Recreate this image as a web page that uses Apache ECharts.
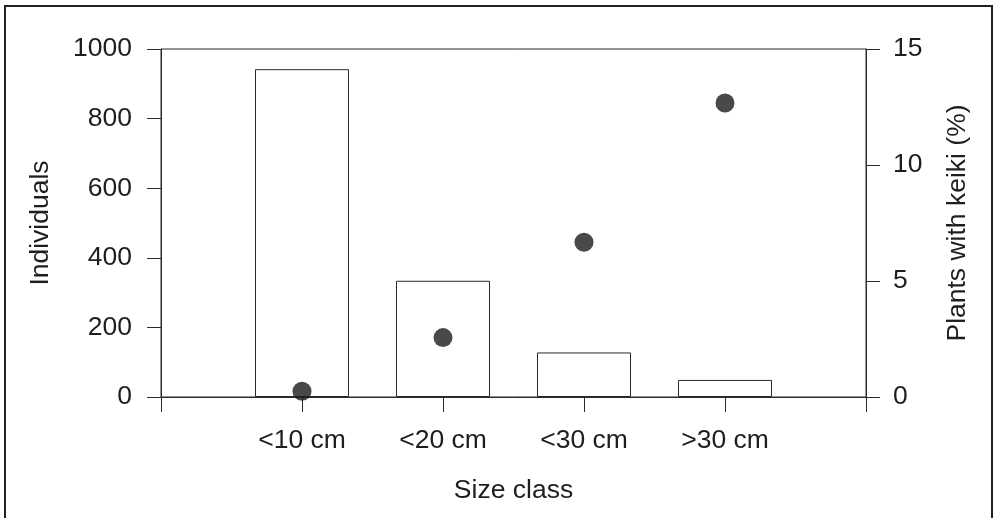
<!DOCTYPE html>
<html>
<head>
<meta charset="utf-8">
<script src="https://cdn.jsdelivr.net/npm/echarts@6/dist/echarts.min.js"></script>
<style>
html,body{margin:0;padding:0;background:#fff;}
#chart{width:994px;height:518px;}
</style>
</head>
<body>
<div id="chart"></div>
<script>
var categories = ['<10 cm', '<20 cm', '<30 cm', '>30 cm'];
var individuals = [942, 334, 128, 49];
var keikiPercent = [0.25, 2.56, 6.67, 12.67];
var leftTicks = [0, 200, 400, 600, 800, 1000];
var rightTicks = [0, 5, 10, 15];

var FONT = 'Liberation Sans, Arial, sans-serif';
var FS = 26.5;
var TXT = '#1e1e1e';
var LINE = '#2a2a2a';

var barData = individuals.map(function (v, i) { return [i + 1, v]; });
var dotData = keikiPercent.map(function (v, i) { return [i + 1, v]; });

var chart = echarts.init(document.getElementById('chart'), null, { renderer: 'canvas' });
chart.setOption({
  animation: false,
  backgroundColor: '#fff',
  graphic: [{
    type: 'polyline',
    shape: { points: [[5, 530], [5, 6], [992, 6], [992, 530]] },
    style: { stroke: '#222', lineWidth: 2, fill: null },
    silent: true
  }],
  grid: {
    left: 161, right: 128, top: 49, bottom: 121,
    show: true, borderColor: LINE, borderWidth: 1, backgroundColor: 'transparent'
  },
  xAxis: {
    type: 'value', min: 0, max: categories.length + 1, interval: 1,
    name: 'Size class', nameLocation: 'middle', nameGap: 80,
    nameTextStyle: { fontFamily: FONT, fontSize: FS, color: TXT },
    axisLine: { show: true, lineStyle: { color: LINE, width: 1 } },
    axisTick: { show: true, length: 15, lineStyle: { color: LINE } },
    axisLabel: {
      margin: 30, fontFamily: FONT, fontSize: FS, color: TXT,
      formatter: function (v) { return categories[v - 1] || ''; }
    },
    splitLine: { show: false }
  },
  yAxis: [{
    type: 'value', min: leftTicks[0], max: leftTicks[leftTicks.length - 1], interval: leftTicks[1] - leftTicks[0],
    position: 'left',
    name: 'Individuals', nameLocation: 'middle', nameGap: 107, nameRotate: 90,
    nameTextStyle: { fontFamily: FONT, fontSize: FS, color: TXT },
    axisLine: { show: true, lineStyle: { color: LINE, width: 1 } },
    axisTick: { show: true, length: 14, lineStyle: { color: LINE } },
    axisLabel: { margin: 29, fontFamily: FONT, fontSize: FS, color: TXT, formatter: function (v) { return String(v); } },
    splitLine: { show: false }
  }, {
    type: 'value', min: rightTicks[0], max: rightTicks[rightTicks.length - 1], interval: rightTicks[1] - rightTicks[0],
    position: 'right',
    name: 'Plants with keiki (%)', nameLocation: 'middle', nameGap: 78, nameRotate: 90,
    nameTextStyle: { fontFamily: FONT, fontSize: FS, color: TXT },
    axisLine: { show: true, lineStyle: { color: LINE, width: 1 } },
    axisTick: { show: true, length: 14, lineStyle: { color: LINE } },
    axisLabel: { margin: 27, fontFamily: FONT, fontSize: FS, color: TXT },
    splitLine: { show: false }
  }],
  series: [{
    type: 'bar', yAxisIndex: 0, data: barData, barWidth: 94,
    itemStyle: { color: '#fff', borderColor: LINE, borderWidth: 1 }
  }, {
    type: 'scatter', yAxisIndex: 1, data: dotData, symbol: 'circle', symbolSize: 19,
    itemStyle: { color: '#1c1c1c' }, z: 5
  }]
});
</script>
</body>
</html>
